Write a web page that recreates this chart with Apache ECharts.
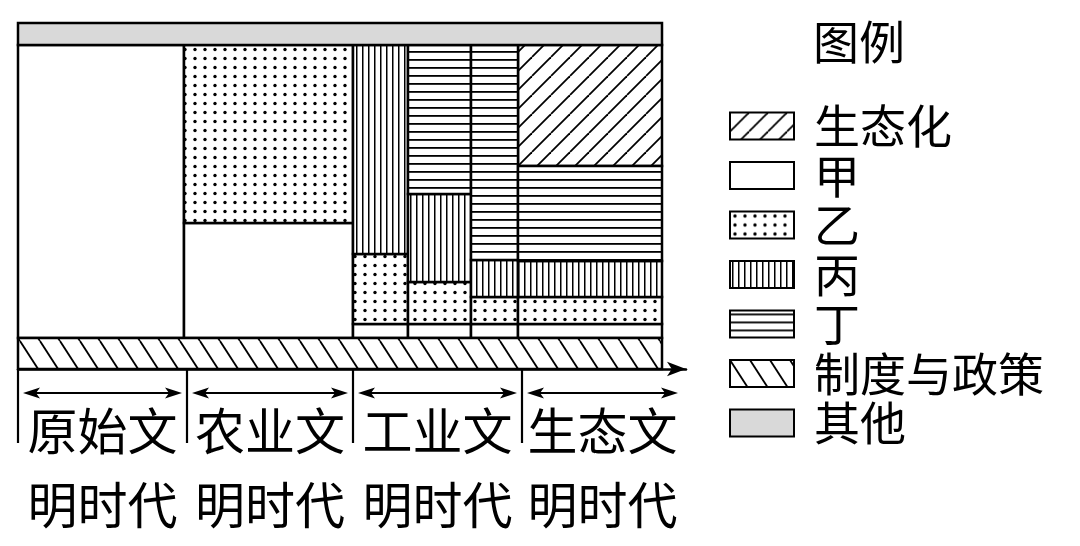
<!DOCTYPE html>
<html>
<head>
<meta charset="utf-8">
<script src="https://cdn.jsdelivr.net/npm/echarts@6/dist/echarts.min.js"></script>
<style>
  html, body { margin: 0; background: #fff; }
  #chart { width: 1080px; height: 546px; }
</style>
</head>
<body>
<div id="chart"></div>
<script>
// column edges along the time axis
const colEdges = [0, 166, 335, 390, 453, 500, 644];
// layer heights per column, bottom to top
const policy = 31;                       // 制度与政策 (whole width)
const jia = [293, 115, 14, 14, 14, 14];
const yi = [0, 178, 70, 42, 27, 27];
const bing = [0, 0, 209, 88, 37, 36];
const ding = [0, 0, 0, 149, 215, 95];
const eco = [0, 0, 0, 0, 0, 121];
const other = 22;                        // 其他 (whole width)
// eras under the axis
const eraEdges = [0, 169, 335, 504, 665];
const eraTop = ['原始文', '农业文', '工业文', '生态文'];
const eraBottom = ['明时代', '明时代', '明时代', '明时代'];
const legendNames = ['生态化', '甲', '乙', '丙', '丁', '制度与政策', '其他'];

const FONT = "'Noto Sans CJK SC', sans-serif";

// small canvas tiles used as hatch fills
function tile(w, h, draw) {
    const c = document.createElement('canvas');
    c.width = w;
    c.height = h;
    const ctx = c.getContext('2d');
    ctx.fillStyle = '#fff';
    ctx.fillRect(0, 0, w, h);
    ctx.fillStyle = '#000';
    ctx.strokeStyle = '#000';
    draw(ctx);
    return { image: c, repeat: 'repeat' };
}

const fills = {
    '生态化': tile(19, 19, ctx => {
        ctx.lineWidth = 1.8;
        [-19, 0, 19].forEach(k => {
            ctx.beginPath(); ctx.moveTo(k, 19); ctx.lineTo(k + 19, 0); ctx.stroke();
        });
    }),
    '甲': '#fff',
    '乙': tile(10, 9, ctx => {
        ctx.beginPath(); ctx.arc(5, 4.5, 1.7, 0, Math.PI * 2); ctx.fill();
    }),
    '丙': tile(6, 4, ctx => ctx.fillRect(2, 0, 1.5, 4)),
    '丁': tile(4, 8, ctx => ctx.fillRect(0, 3, 4, 1.8)),
    '制度与政策': tile(20, 31, ctx => {
        ctx.lineWidth = 1.8;
        [-20, 0, 20].forEach(k => {
            ctx.beginPath(); ctx.moveTo(k, 0); ctx.lineTo(k + 20, 31); ctx.stroke();
        });
    }),
    '其他': '#d9d9d9'
};

// stack the layers column by column -> [x0, x1, y0, y1]
const rects = {};
rects['制度与政策'] = [[colEdges[0], colEdges[colEdges.length - 1], 0, policy]];
const base = jia.map(() => policy);
[['甲', jia], ['乙', yi], ['丙', bing], ['丁', ding], ['生态化', eco]].forEach(([name, vals]) => {
    rects[name] = [];
    vals.forEach((v, i) => {
        if (v > 0) rects[name].push([colEdges[i], colEdges[i + 1], base[i], base[i] + v]);
        base[i] += v;
    });
});
const stackTop = Math.max(...base);
rects['其他'] = [[colEdges[0], colEdges[colEdges.length - 1], stackTop, stackTop + other]];

const rectSeries = legendNames.map(name => ({
    name: name,
    type: 'custom',
    itemStyle: { color: fills[name] },
    encode: { x: [0, 1], y: [2, 3] },
    data: rects[name],
    renderItem: (params, api) => {
        const p0 = api.coord([api.value(0), api.value(3)]);
        const p1 = api.coord([api.value(1), api.value(2)]);
        return {
            type: 'rect',
            shape: { x: p0[0], y: p0[1], width: p1[0] - p0[0], height: p1[1] - p0[1] },
            style: { fill: fills[name], stroke: '#000', lineWidth: 2.5 }
        };
    }
}));

// era markers: tick line, double arrow, two lines of text
const eraData = eraTop.map((t, i) => [eraEdges[i], eraEdges[i + 1]]);
const eraSeries = {
    name: 'eras',
    type: 'custom',
    silent: true,
    data: eraData,
    encode: { x: [0, 1] },
    renderItem: (params, api) => {
        const a = api.coord([api.value(0), 0]);
        const b = api.coord([api.value(1), 0]);
        const y = a[1];
        const ay = y + 24;
        const l = a[0] + 5, r = b[0] - 5;
        const cx = (a[0] + b[0]) / 2;
        const i = params.dataIndex;
        const txt = (s, ty) => ({
            type: 'text',
            style: {
                text: s, x: cx, y: ty, fill: '#000',
                font: '50px ' + FONT,
                align: 'center', verticalAlign: 'middle',
                textAlign: 'center', textVerticalAlign: 'middle'
            }
        });
        return {
            type: 'group',
            children: [
                { type: 'line', shape: { x1: a[0], y1: y, x2: a[0], y2: y + 74 }, style: { stroke: '#000', lineWidth: 2.2 } },
                { type: 'line', shape: { x1: l + 8, y1: ay, x2: r - 8, y2: ay }, style: { stroke: '#000', lineWidth: 2 } },
                { type: 'polygon', shape: { points: [[l, ay], [l + 17, ay - 5.5], [l + 13, ay], [l + 17, ay + 5.5]] }, style: { fill: '#000' } },
                { type: 'polygon', shape: { points: [[r, ay], [r - 17, ay - 5.5], [r - 13, ay], [r - 17, ay + 5.5]] }, style: { fill: '#000' } },
                txt(eraTop[i], y + 62),
                txt(eraBottom[i], y + 136)
            ]
        };
    }
};

const chart = echarts.init(document.getElementById('chart'));
chart.setOption({
    animation: false,
    backgroundColor: '#fff',
    title: {
        text: '图例',
        left: 808,
        top: 14,
        textStyle: { fontSize: 46, fontWeight: 'normal', fontFamily: FONT, color: '#000', lineHeight: 46 }
    },
    legend: {
        data: legendNames,
        orient: 'vertical',
        left: 724,
        top: 98,
        height: 440,
        icon: 'rect',
        itemWidth: 64,
        itemHeight: 27,
        itemGap: 3.5,
        selectedMode: false,
        itemStyle: { borderColor: '#000', borderWidth: 2 },
        textStyle: { fontSize: 46, fontFamily: FONT, color: '#000', lineHeight: 27, padding: [0, 0, 0, 15] }
    },
    grid: { left: 18, right: 394, top: 23, bottom: 177 },
    xAxis: {
        type: 'value',
        min: 0,
        max: 668,
        axisLine: {
            show: true,
            symbol: ['none', 'arrow'],
            symbolSize: [11, 19],
            lineStyle: { color: '#000', width: 2.5 }
        },
        axisTick: { show: false },
        axisLabel: { show: false },
        splitLine: { show: false }
    },
    yAxis: {
        type: 'value',
        min: 0,
        max: policy + jia[0] + other,
        show: false
    },
    series: rectSeries.concat([eraSeries])
});
</script>
</body>
</html>
